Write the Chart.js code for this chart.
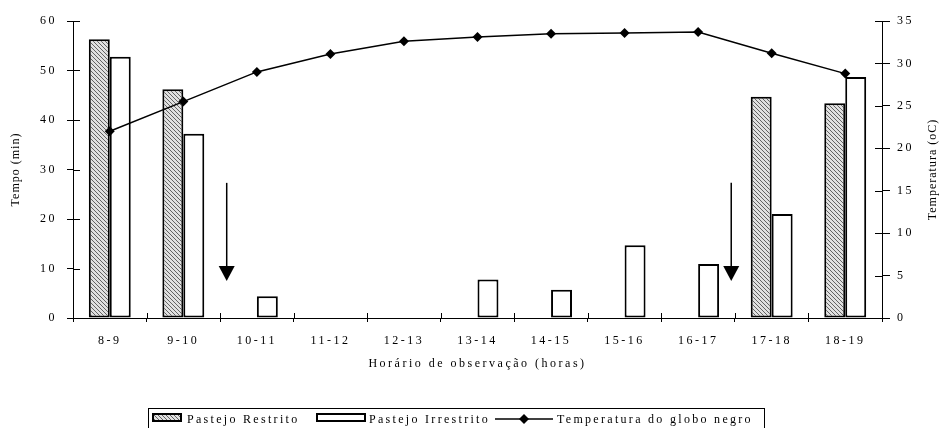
<!DOCTYPE html>
<html>
<head>
<meta charset="utf-8">
<script src="https://cdn.jsdelivr.net/npm/chart.js@4/dist/chart.umd.min.js"></script>
<style>
  html, body { margin: 0; padding: 0; background: #fff; overflow: hidden; }
  #wrap { position: relative; width: 940px; height: 428px; }
  #c { position: absolute; left: 0; top: 0; }
  .legend { position: absolute; left: 148px; top: 408px; width: 617px; height: 30px;
            border: 1px solid #000; box-sizing: border-box; }
  .lg { position: absolute; font: 12px "Liberation Serif", "Times New Roman", serif;
        letter-spacing: 2.3px; color: #000; top: 3px; line-height: 14px; white-space: nowrap; }
  .sw { position: absolute; top: 4px; height: 9px; box-sizing: border-box; border: 2px solid #000; }
</style>
</head>
<body>
<div id="wrap">
  <canvas id="c" width="940" height="428"></canvas>
  <div class="legend">
    <div class="sw" id="swR" style="left:3px;width:30px;"></div>
    <div class="lg" style="left:38px;">Pastejo Restrito</div>
    <div class="sw" style="left:167px;width:50px;background:#fff;"></div>
    <div class="lg" style="left:220px;">Pastejo Irrestrito</div>
    <svg style="position:absolute;left:346px;top:2px;" width="60" height="16">
      <line x1="0" y1="8" x2="58" y2="8" stroke="#000" stroke-width="1.5"/>
      <polygon points="29,3 34,8 29,13 24,8" fill="#000"/>
    </svg>
    <div class="lg" style="left:408px;">Temperatura do globo negro</div>
  </div>
</div>
<script>
// Observation intervals (hours)
const categories = ['8-9', '9-10', '10-11', '11-12', '12-13', '13-14', '14-15', '15-16', '16-17', '17-18', '18-19'];
// Grazing time (min) per interval
const pastejoRestrito   = [56.3, 46.2, 0, 0, 0, 0, 0, 0, 0, 44.7, 43.4];
const pastejoIrrestrito = [52.8, 37.2, 4.4, 0, 0, 7.8, 5.7, 14.7, 10.9, 21.0, 48.7];
// Black globe temperature (oC)
const temperaturaGlobo  = [22.0, 25.5, 29.0, 31.1, 32.6, 33.1, 33.5, 33.6, 33.7, 31.2, 28.8];
// Arrows: category position and start/end on the time axis
const setas = [
  { at: 1.59, from: 27.3, to: 7.5 },
  { at: 8.45, from: 27.3, to: 7.5 }
];

const FONT = '"Liberation Serif", "Times New Roman", serif';

// Diagonal hatch fill for the restricted-grazing bars
function hatch() {
  const p = document.createElement('canvas');
  p.width = 4; p.height = 4;
  const g = p.getContext('2d');
  g.fillStyle = '#e0e0e0';
  g.fillRect(0, 0, 4, 4);
  g.strokeStyle = '#636363';
  g.lineWidth = 1;
  g.beginPath();
  g.moveTo(-1, -1); g.lineTo(5, 5);
  g.moveTo(-1, 3); g.lineTo(1, 5);
  g.moveTo(3, -1); g.lineTo(5, 1);
  g.stroke();
  return p;
}
const hatchCanvas = hatch();
document.getElementById('swR').style.background = 'url(' + hatchCanvas.toDataURL() + ')';

const ctx = document.getElementById('c').getContext('2d');
const pattern = ctx.createPattern(hatchCanvas, 'repeat');

const decor = {
  id: 'decor',
  beforeInit(chart) { chart.ctx.letterSpacing = '2.5px'; },
  beforeDraw(chart) { chart.ctx.letterSpacing = '2.5px'; },
  afterDraw(chart) {
    const c = chart.ctx;
    const { x, y, y2 } = chart.scales;
    const area = chart.chartArea;
    c.save();
    c.strokeStyle = '#000';
    c.lineWidth = 1;
    c.beginPath();
    // inner halves of tick marks
    y.ticks.forEach((t, i) => {
      const py = Math.round(y.getPixelForTick(i)) + 0.5;
      c.moveTo(area.left, py); c.lineTo(area.left + 7, py);
    });
    y2.ticks.forEach((t, i) => {
      const py = Math.round(y2.getPixelForTick(i)) + 0.5;
      c.moveTo(area.right - 7, py); c.lineTo(area.right, py);
    });
    for (let i = 0; i <= categories.length; i++) {
      const px = Math.round(x.getPixelForValue(i - 0.5)) + 0.5;
      c.moveTo(px, area.bottom - 5); c.lineTo(px, area.bottom);
    }
    c.stroke();

    // arrows
    setas.forEach(s => {
      const px = x.getPixelForValue(s.at);
      const top = y.getPixelForValue(s.from);
      const tip = y.getPixelForValue(s.to);
      c.lineWidth = 1.5;
      c.beginPath();
      c.moveTo(px, top); c.lineTo(px, tip - 12);
      c.stroke();
      c.fillStyle = '#000';
      c.beginPath();
      c.moveTo(px - 8, tip - 15); c.lineTo(px + 8, tip - 15); c.lineTo(px, tip);
      c.closePath(); c.fill();
    });

    // vertical axis titles
    c.letterSpacing = '1px';
    c.font = '12px ' + FONT;
    c.fillStyle = '#000';
    c.textAlign = 'center';
    c.textBaseline = 'middle';
    const cy = (area.top + area.bottom) / 2;
    c.save(); c.translate(16, cy); c.rotate(-Math.PI / 2); c.fillText('Tempo (min)', 0, 0); c.restore();
    c.save(); c.translate(933, cy); c.rotate(-Math.PI / 2); c.fillText('Temperatura (oC)', 0, 0); c.restore();
    c.restore();
  }
};

Chart.defaults.color = '#000';
Chart.defaults.font.family = FONT;
Chart.defaults.font.size = 12;

new Chart(ctx, {
  type: 'bar',
  data: {
    labels: categories,
    datasets: [
      {
        type: 'line', label: 'Temperatura do globo negro', data: temperaturaGlobo, yAxisID: 'y2',
        borderColor: '#000', backgroundColor: '#000', borderWidth: 1.5,
        pointStyle: 'rectRot', pointRadius: 5, pointBackgroundColor: '#000', pointBorderWidth: 0,
        tension: 0, order: 0
      },
      {
        label: 'Pastejo Restrito', data: pastejoRestrito, yAxisID: 'y',
        backgroundColor: pattern, borderColor: '#000', borderWidth: 2, borderSkipped: false,
        categoryPercentage: 0.57, barPercentage: 1, order: 1
      },
      {
        label: 'Pastejo Irrestrito', data: pastejoIrrestrito, yAxisID: 'y',
        backgroundColor: '#fff', borderColor: '#000', borderWidth: 2, borderSkipped: false,
        categoryPercentage: 0.57, barPercentage: 1, order: 1
      }
    ]
  },
  options: {
    responsive: false,
    animation: false,
    devicePixelRatio: 1,
    layout: { padding: { top: 21, left: 0, right: 0, bottom: 0 } },
    plugins: { legend: { display: false }, tooltip: { enabled: false } },
    scales: {
      x: {
        grid: { offset: true, drawOnChartArea: false, tickLength: 4, color: '#000', tickColor: '#000' },
        border: { color: '#000', width: 1 },
        ticks: { padding: 12, maxRotation: 0, autoSkip: false },
        title: { display: true, text: 'Horário de observação (horas)', padding: { top: 0, bottom: 57 } },
        afterFit(s) { s.height = 110; }
      },
      y: {
        position: 'left', min: 0, max: 60,
        ticks: { stepSize: 10, padding: 10 },
        grid: { drawOnChartArea: false, tickLength: 6, color: '#000' },
        border: { color: '#000', width: 1 },
        afterFit(s) { s.width = 73; }
      },
      y2: {
        position: 'right', min: 0, max: 35,
        ticks: { stepSize: 5, padding: 7 },
        grid: { drawOnChartArea: false, tickLength: 8, color: '#000' },
        border: { color: '#000', width: 1 },
        afterFit(s) { s.width = 58; }
      }
    }
  },
  plugins: [decor]
});
</script>
</body>
</html>
